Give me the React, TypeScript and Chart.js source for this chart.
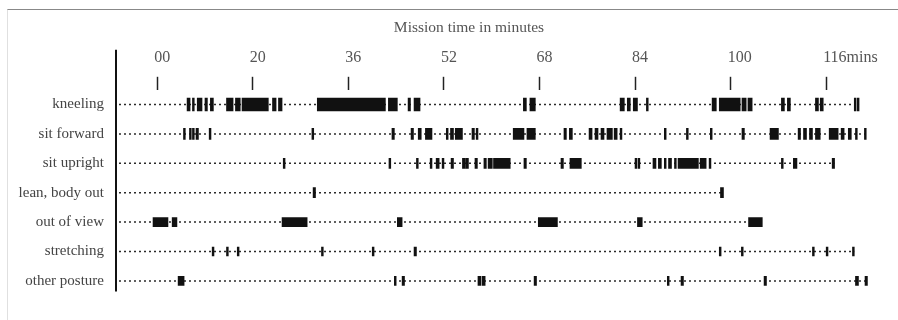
import React, { useEffect, useRef } from "react";
import { Chart, registerables } from "chart.js";

Chart.register(...registerables);

// ---- data (minutes) ----
const ROWS = [
  "kneeling",
  "sit forward",
  "sit upright",
  "lean, body out",
  "out of view",
  "stretching",
  "other posture",
];

const TICK_VALUES = [4, 20, 36, 52, 68, 84, 100, 116];
const TICK_LABELS = ["00", "20", "36", "52", "68", "84", "100", "116mins"];

const LINE_START = -2.4;

const kneeling: [number, number][] = [
  [9.0, 9.5], [9.9, 10.2], [10.7, 11.5], [12.0, 12.4], [12.9, 13.4], [15.6, 16.7],
  [17.1, 17.9], [18.2, 22.6], [23.3, 23.9], [24.3, 24.9], [30.8, 42.2], [42.7, 44.2],
  [46.0, 46.4], [47.0, 48.0], [65.3, 65.8], [66.4, 67.3], [81.5, 82.2], [82.7, 83.2],
  [83.7, 84.4], [85.9, 86.2], [96.9, 97.6], [98.1, 101.6], [101.9, 102.6], [102.9, 103.6],
  [108.5, 109.0], [109.5, 110.0], [114.2, 114.7], [115.0, 115.5], [120.7, 121.0], [121.2, 121.5],
];

const sitForward: [number, number][] = [
  [8.4, 8.7], [9.4, 9.7], [9.9, 10.2], [10.5, 10.9], [12.7, 13.0], [29.9, 30.2],
  [43.3, 43.7], [46.5, 46.9], [47.7, 48.2], [48.9, 50.0], [52.4, 52.7], [53.1, 53.6],
  [53.9, 55.1], [56.7, 57.1], [57.4, 57.7], [63.6, 65.4], [65.9, 67.3], [72.1, 72.5],
  [73.0, 73.5], [76.3, 76.8], [77.3, 77.8], [78.3, 78.8], [79.3, 80.2], [80.5, 81.0],
  [81.5, 81.8], [88.9, 89.2], [92.6, 92.9], [96.6, 96.9], [101.9, 102.3], [106.6, 108.0],
  [111.3, 111.7], [112.2, 112.7], [113.2, 113.7], [114.2, 115.0], [116.5, 118.0], [118.5, 119.0],
  [119.7, 120.2], [120.9, 121.2], [122.4, 122.7],
];

const sitUpright: [number, number][] = [
  [25.1, 25.4], [42.8, 43.1], [47.4, 47.7], [49.7, 50.0], [50.7, 51.2], [51.7, 52.0],
  [53.2, 53.6], [55.1, 55.6], [55.7, 56.1], [57.2, 57.6], [58.7, 59.1], [59.4, 60.1],
  [60.3, 63.1], [65.4, 65.8], [71.6, 72.0], [73.1, 75.0], [84.0, 84.3], [84.5, 84.8],
  [87.0, 87.5], [87.9, 88.4], [88.9, 89.2], [89.6, 90.1], [90.6, 90.9], [91.2, 94.6],
  [94.9, 95.9], [96.4, 96.7], [108.5, 108.8], [110.5, 111.1], [117.0, 117.4],
];

const leanBodyOut: [number, number][] = [[30.1, 30.5], [98.3, 98.8]];

const outOfView: [number, number][] = [
  [3.3, 5.8], [6.5, 7.3], [24.9, 29.1], [44.2, 45.0], [67.8, 71.0], [84.4, 85.2], [103.0, 105.3],
];

const stretching: [number, number][] = [
  [13.2, 13.5], [15.6, 15.9], [17.4, 17.7], [31.5, 31.8], [40.0, 40.3], [47.0, 47.4],
  [98.1, 98.4], [101.8, 102.1], [113.7, 114.0], [116.0, 116.3], [120.4, 120.7],
];

const otherPosture: [number, number][] = [
  [7.5, 8.5], [43.7, 44.0], [45.0, 45.4], [57.7, 58.2], [58.4, 58.9], [67.1, 67.5],
  [89.4, 89.7], [91.7, 92.1], [105.6, 106.0], [120.9, 121.4], [122.5, 122.9],
];

const ROW_EVENTS = [kneeling, sitForward, sitUpright, leanBodyOut, outOfView, stretching, otherPosture];

const SERIF = "'Liberation Serif', 'DejaVu Serif', 'Times New Roman', serif";

const axisLinePlugin = {
  id: "axisLine",
  afterDraw(chart: any) {
    const { ctx, chartArea } = chart;
    const x = chartArea.left;
    ctx.save();
    ctx.strokeStyle = "#111";
    ctx.lineWidth = 2;
    ctx.beginPath();
    ctx.moveTo(x, chartArea.top - 40);
    ctx.lineTo(x, chartArea.bottom - 4);
    ctx.stroke();
    ctx.restore();
  },
};

export default function App() {
  const ref = useRef<HTMLCanvasElement | null>(null);

  useEffect(() => {
    if (!ref.current) return;

    const rowThickness = [13, 11, 10, 10, 9, 9, 9];

    const lineSets = ROWS.map((row, i) => ({
      type: "line" as const,
      indexAxis: "y" as const,
      order: 2,
      data: [
        { x: LINE_START, y: row },
        { x: Math.max(...ROW_EVENTS[i].map((e) => e[1])), y: row },
      ],
      borderColor: "#2a2a2a",
      borderWidth: 1.5,
      borderDash: [2, 3],
      pointRadius: 0,
      fill: false,
    }));

    const barSets = ROWS.map((row, i) => ({
      type: "bar" as const,
      order: 1,
      grouped: false,
      barThickness: rowThickness[i],
      data: ROW_EVENTS[i].map((e) => ({ x: e, y: row })),
      backgroundColor: "#111",
      borderWidth: 0,
    }));

    const chart = new Chart(ref.current, {
      type: "bar",
      data: {
        labels: ROWS,
        datasets: [...barSets, ...lineSets] as any,
      },
      options: {
        animation: false,
        responsive: false,
        indexAxis: "y",
        layout: { padding: { left: 0, right: -32, top: 0, bottom: 24.4 } },
        plugins: {
          legend: { display: false },
          tooltip: { enabled: false },
          title: {
            display: true,
            text: "Mission time in minutes",
            color: "#555",
            font: { family: SERIF, size: 15.5, weight: "normal" },
            padding: { top: 8.7, bottom: 1.9 },
          },
        },
        scales: {
          x: {
            type: "linear",
            position: "top",
            min: -2.9,
            max: 123.5,
            bounds: "data",
            border: { display: false },
            grid: {
              display: true,
              drawOnChartArea: false,
              drawTicks: true,
              tickLength: 13,
              tickColor: "#222",
              tickWidth: 1.5,
            },
            afterBuildTicks: (scale: any) => {
              scale.ticks = TICK_VALUES.map((v) => ({ value: v }));
            },
            ticks: {
              autoSkip: false,
              maxRotation: 0,
              minRotation: 0,
              align: "start",
              labelOffset: -3,
              padding: 9.2,
              color: "#555",
              font: { family: SERIF, size: 16 },
              callback: (_v: any, index: number) => TICK_LABELS[index],
            },
          },
          y: {
            type: "category",
            position: "left",
            border: { display: false },
            grid: { display: false, drawTicks: false },
            afterFit: (scale: any) => {
              scale.width = 108;
            },
            ticks: {
              padding: 12,
              color: "#444",
              font: { family: SERIF, size: 15 },
            },
          },
          yRight: {
            type: "category",
            position: "right",
            labels: ROWS,
            border: { display: false },
            grid: { display: false, drawTicks: false },
            ticks: { display: false },
            afterFit: (scale: any) => {
              scale.width = 59;
            },
          },
        },
      } as any,
      plugins: [axisLinePlugin],
    });

    return () => chart.destroy();
  }, []);

  return (
    <div
      style={{
        position: "absolute",
        left: 7,
        top: 9,
        width: 891,
        height: 311,
        boxSizing: "border-box",
        borderTop: "1px solid #888",
        borderLeft: "1px solid #e0e0e0",
        background: "#fff",
      }}
    >
      <canvas ref={ref} width={890} height={310} style={{ display: "block", width: 890, height: 310 }} />
    </div>
  );
}
